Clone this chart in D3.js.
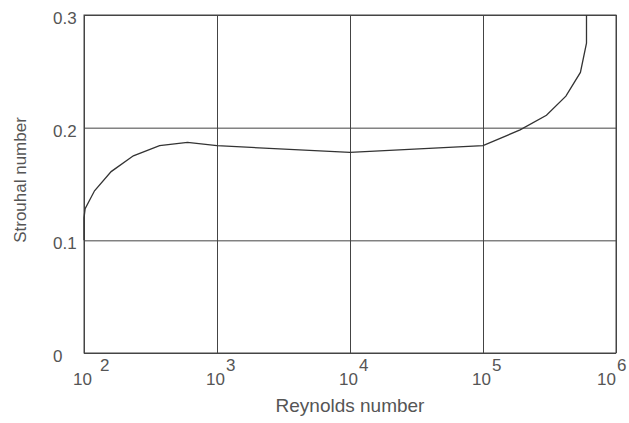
<!DOCTYPE html>
<html>
<head>
<meta charset="utf-8">
<script src="https://cdn.jsdelivr.net/npm/d3@7"></script>
<style>
  body { margin: 0; background: #fff; }
  text { font-family: "Liberation Sans", Arial, sans-serif; fill: #555; }
</style>
</head>
<body>
<div id="chart"></div>
<script>
// data
var reynolds = [100, 100, 102, 120, 160, 235, 370, 600, 1000, 10000, 100000, 190000, 300000, 420000, 540000, 600000, 600000];
var strouhal = [0.100, 0.120, 0.128, 0.144, 0.161, 0.175, 0.184, 0.187, 0.184, 0.178, 0.184, 0.198, 0.211, 0.228, 0.249, 0.275, 0.300];
var xTicks = [1e2, 1e3, 1e4, 1e5, 1e6];
var xTickExp = ["2", "3", "4", "5", "6"];
var yTicks = [0, 0.1, 0.2, 0.3];

var svgWidth = 629;
var svgHeight = 423;
var margin = {top: 15, right: 13, bottom: 70, left: 84};
var chartWidth = svgWidth - margin.left - margin.right;
var chartHeight = svgHeight - margin.top - margin.bottom;

var svg = d3.select("#chart").append("svg")
    .attr("width", svgWidth)
    .attr("height", svgHeight);

var chartGroup = svg.append("g")
    .attr("transform", `translate(${margin.left}, ${margin.top})`);

var xScale = d3.scaleLog().domain([1e2, 1e6]).range([0, chartWidth]);
var yScale = d3.scaleLinear().domain([0, 0.3]).range([chartHeight, 0]);

// grid lines
chartGroup.append("g")
    .attr("transform", `translate(0, ${chartHeight})`)
    .call(d3.axisBottom(xScale).tickValues(xTicks).tickSize(-chartHeight).tickFormat(""));
chartGroup.append("g")
    .call(d3.axisLeft(yScale).tickValues(yTicks).tickSize(-chartWidth).tickFormat(""));
chartGroup.selectAll(".domain").remove();
chartGroup.selectAll(".tick line").attr("stroke", "#444").attr("stroke-width", 1);

// frame
chartGroup.append("rect")
    .attr("width", chartWidth)
    .attr("height", chartHeight)
    .attr("fill", "none")
    .attr("stroke", "#444")
    .attr("stroke-width", 1);

// curve
var line = d3.line()
    .x((d, i) => xScale(reynolds[i]))
    .y((d, i) => yScale(strouhal[i]));
chartGroup.append("path")
    .datum(strouhal)
    .attr("d", line)
    .attr("fill", "none")
    .attr("stroke", "#333")
    .attr("stroke-width", 1.3);

// y tick labels (left aligned)
chartGroup.selectAll(".ylab")
    .data(yTicks)
    .enter()
    .append("text")
    .attr("x", -31)
    .attr("y", d => yScale(d) + 9)
    .style("font-size", "17px")
    .text(d => d === 0 ? "0" : d.toFixed(1));

// x tick labels 10^n
var last = xTicks.length - 1;
var xLab = chartGroup.selectAll(".xlab")
    .data(xTicks)
    .enter()
    .append("g")
    .attr("transform", d => `translate(${xScale(d)}, ${chartHeight})`);
xLab.append("text")
    .attr("x", (d, i) => i === last ? 0 : 8)
    .attr("y", 32)
    .attr("text-anchor", "end")
    .style("font-size", "17px")
    .text("10");
xLab.append("text")
    .attr("x", (d, i) => i === 0 ? 16 : (i === last ? 1 : 9))
    .attr("y", 18)
    .style("font-size", "17px")
    .text((d, i) => xTickExp[i]);

// axis titles
chartGroup.append("text")
    .attr("x", chartWidth / 2)
    .attr("y", chartHeight + 59)
    .attr("text-anchor", "middle")
    .style("font-size", "19px")
    .text("Reynolds number");

chartGroup.append("text")
    .attr("transform", "rotate(-90)")
    .attr("x", -165)
    .attr("y", -58)
    .attr("text-anchor", "middle")
    .style("font-size", "17px")
    .text("Strouhal number");
</script>
</body>
</html>
